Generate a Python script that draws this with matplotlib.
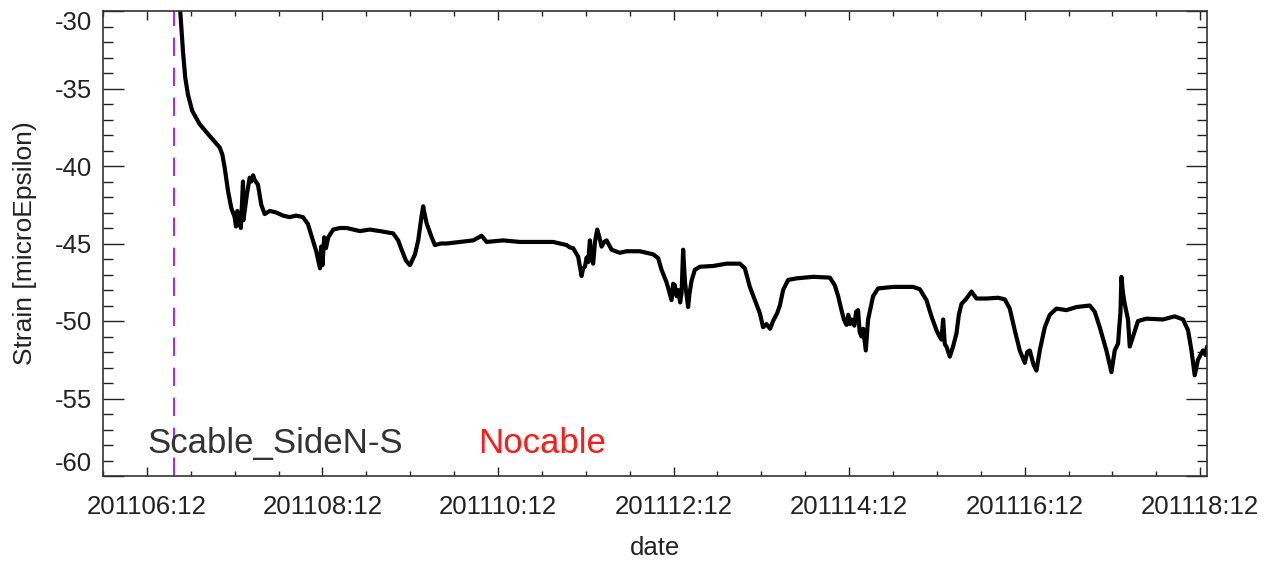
import matplotlib
matplotlib.use("Agg")
import matplotlib.pyplot as plt
from matplotlib.ticker import MultipleLocator

# ---- data (time in days of the month, strain in microEpsilon) ----
days = [6.872, 6.880, 6.911, 6.937, 6.968, 7.017, 7.101, 7.215, 7.329, 7.359,
        7.386, 7.424, 7.461, 7.500, 7.515, 7.530, 7.545, 7.557, 7.570, 7.582,
        7.595, 7.600, 7.614, 7.640, 7.671, 7.690, 7.710, 7.728, 7.765, 7.803,
        7.842, 7.900, 7.974, 8.050, 8.126, 8.200, 8.278, 8.335, 8.392, 8.429,
        8.460, 8.472, 8.485, 8.500, 8.520, 8.540, 8.566, 8.623, 8.700, 8.776,
        8.850, 8.927, 9.040, 9.155, 9.306, 9.363, 9.402, 9.451, 9.497, 9.554,
        9.591, 9.610, 9.630, 9.648, 9.660, 9.687, 9.744, 9.781, 9.850, 9.915,
        10.066, 10.218, 10.313, 10.370, 10.559, 10.749, 10.940, 11.129, 11.281, 11.319,
        11.356, 11.413, 11.452, 11.470, 11.490, 11.510, 11.527, 11.547, 11.565, 11.584,
        11.605, 11.630, 11.655, 11.680, 11.710, 11.737, 11.794, 11.888, 11.965, 12.116,
        12.268, 12.325, 12.363, 12.420, 12.450, 12.477, 12.495, 12.515, 12.535, 12.552,
        12.575, 12.591, 12.609, 12.630, 12.666, 12.680, 12.705, 12.742, 12.799, 12.951,
        13.104, 13.255, 13.312, 13.369, 13.426, 13.483, 13.520, 13.559, 13.600, 13.634,
        13.680, 13.711, 13.748, 13.805, 13.901, 14.090, 14.280, 14.337, 14.375, 14.413,
        14.440, 14.470, 14.490, 14.510, 14.527, 14.560, 14.580, 14.602, 14.620, 14.641,
        14.660, 14.690, 14.716, 14.773, 14.830, 15.001, 15.229, 15.305, 15.381, 15.438,
        15.495, 15.530, 15.552, 15.571, 15.590, 15.609, 15.630, 15.647, 15.684, 15.723,
        15.750, 15.780, 15.837, 15.894, 15.951, 16.065, 16.197, 16.273, 16.330, 16.387,
        16.444, 16.501, 16.530, 16.558, 16.600, 16.634, 16.672, 16.729, 16.786, 16.862,
        16.976, 17.090, 17.241, 17.298, 17.355, 17.431, 17.488, 17.526, 17.564, 17.580,
        17.591, 17.602, 17.620, 17.640, 17.677, 17.697, 17.734, 17.791, 17.887, 18.076,
        18.209, 18.304, 18.361, 18.400, 18.437, 18.474, 18.531, 18.560, 18.577]

strain = [-29.4, -30.0, -32.6, -34.3, -35.4, -36.45, -37.3, -38.06, -38.8, -39.25,
          -40.1, -41.6, -42.7, -43.3, -43.9, -42.9, -43.8, -43.1, -44.0, -42.6,
          -41.0, -43.5, -42.9, -41.8, -40.75, -41.0, -40.6, -40.9, -41.2, -42.5,
          -43.1, -42.9, -43.0, -43.2, -43.3, -43.2, -43.3, -43.75, -44.8, -45.5,
          -46.3, -46.6, -45.2, -46.4, -44.6, -45.3, -44.6, -44.1, -44.0, -44.0,
          -44.1, -44.2, -44.1, -44.2, -44.35, -44.8, -45.4, -46.1, -46.4, -45.7,
          -44.8, -44.0, -43.2, -42.6, -43.0, -43.7, -44.6, -45.1, -45.0, -45.0,
          -44.9, -44.8, -44.5, -44.9, -44.8, -44.9, -44.9, -44.9, -45.1, -45.25,
          -45.3, -45.85, -47.1, -46.6, -46.5, -45.9, -46.2, -44.8, -46.0, -46.3,
          -44.9, -44.1, -44.6, -45.2, -44.9, -44.8, -45.4, -45.6, -45.5, -45.5,
          -45.7, -45.95, -46.7, -47.5, -48.1, -48.65, -47.6, -47.7, -48.4, -48.0,
          -48.8, -48.2, -45.4, -47.5, -49.1, -48.3, -47.4, -46.7, -46.5, -46.45,
          -46.3, -46.3, -46.6, -47.8, -48.65, -49.5, -50.4, -50.2, -50.5, -50.0,
          -49.5, -49.0, -48.0, -47.35, -47.25, -47.15, -47.2, -47.7, -48.4, -49.3,
          -49.9, -50.25, -49.6, -50.2, -49.9, -50.3, -49.4, -49.3, -50.7, -51.0,
          -50.5, -51.9, -49.9, -48.4, -47.9, -47.8, -47.8, -47.95, -48.65, -49.7,
          -50.6, -51.0, -51.2, -49.9, -51.5, -51.65, -52.0, -52.3, -51.65, -50.8,
          -49.6, -48.9, -48.55, -48.1, -48.55, -48.55, -48.5, -48.6, -49.2, -50.6,
          -51.9, -52.7, -52.0, -51.9, -52.8, -53.2, -51.9, -50.4, -49.6, -49.2,
          -49.3, -49.1, -49.0, -49.4, -50.4, -51.9, -53.3, -51.9, -51.45, -50.2,
          -49.5, -47.15, -48.2, -48.9, -49.9, -51.65, -51.0, -50.0, -49.85, -49.9,
          -49.7, -49.9, -50.6, -51.9, -53.5, -52.5, -51.9, -52.2, -51.65]

marker_day = 6.812
xtick_pos = [6.5, 8.5, 10.5, 12.5, 14.5, 16.5, 18.5]
xtick_labels = ["201106:12", "201108:12", "201110:12", "201112:12",
                "201114:12", "201116:12", "201118:12"]
ytick_pos = [-60, -55, -50, -45, -40, -35, -30]
ytick_labels = ["-60", "-55", "-50", "-45", "-40", "-35", "-30"]

plt.rcParams['font.family'] = ['Liberation Sans', 'DejaVu Sans']

fig = plt.figure(figsize=(12.79, 5.63), dpi=100)
ax = fig.add_axes([103/1279, 1 - 476/563, (1207 - 103)/1279, (476 - 11)/563])

ax.plot(days, strain, color='black', lw=3.0, solid_joinstyle='round',
        solid_capstyle='round')
ax.axvline(marker_day, color='#9400ff', lw=1.2, dashes=(11, 7))

ax.set_xlim(6.0, 18.577)
ax.set_ylim(-60, -30)

ax.set_xticks(xtick_pos)
ax.set_xticklabels(xtick_labels)
ax.xaxis.set_minor_locator(MultipleLocator(0.5))
ax.set_yticks(ytick_pos)
ax.set_yticklabels(ytick_labels)
ax.yaxis.set_minor_locator(MultipleLocator(1))

tc = '#222222'
ax.tick_params(axis='x', which='major', direction='in', length=6.5, width=1.0,
               top=True, bottom=True, labelsize=18.5, pad=14, colors=tc)
ax.tick_params(axis='x', which='minor', direction='in', length=3.3, width=1.0,
               top=True, bottom=True, colors=tc)
ax.tick_params(axis='y', which='major', direction='in', length=15, width=1.0,
               left=True, right=True, labelsize=18.5, pad=8, colors=tc)
ax.tick_params(axis='y', which='minor', direction='in', length=7.5, width=1.0,
               left=True, right=True, colors=tc)
ylabels = ax.get_yticklabels()
ylabels[0].set_va('bottom')
ylabels[-1].set_va('top')

for s in ax.spines.values():
    s.set_color('#333333')
    s.set_linewidth(1.2)

fig.text(25/1279, 1 - 243.5/563, "Strain [microEpsilon)", rotation=90,
         ha='center', va='center', fontsize=19, color=tc)
fig.text(655/1279, 1 - 548/563, "date", ha='center', va='center',
         fontsize=18.5, color=tc)

ax.text(6.5, -57.9, "Scable_SideN-S", ha='left', va='center',
        fontsize=25, color='#333333')
ax.text(10.27, -57.9, "Nocable", ha='left', va='center',
        fontsize=25, color='#ff1a1a')

fig.savefig("out.png", dpi=100)
